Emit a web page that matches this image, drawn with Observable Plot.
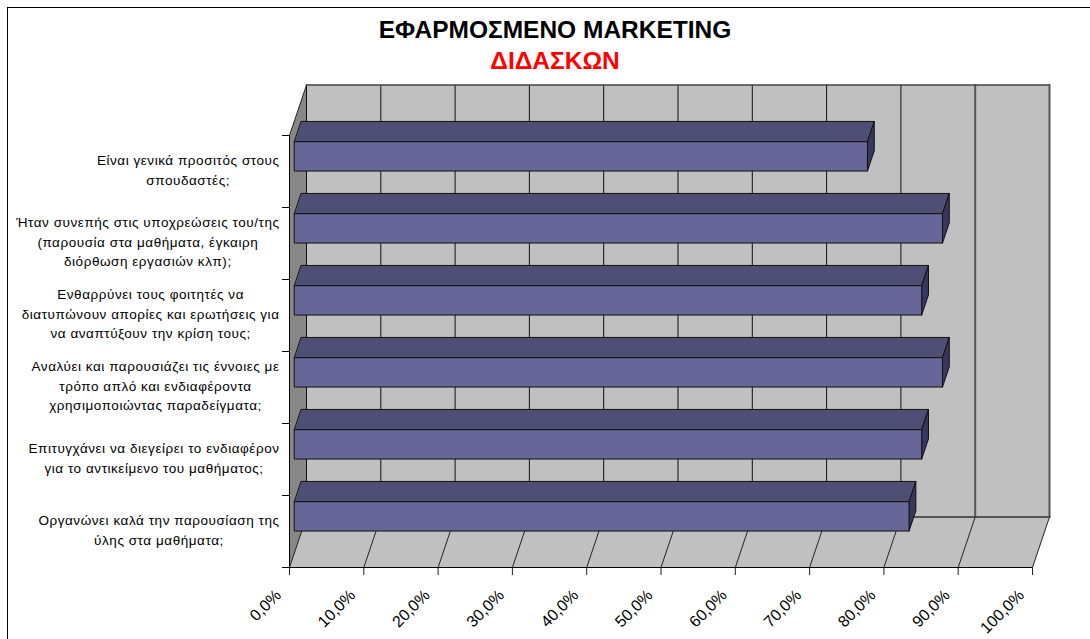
<!DOCTYPE html>
<html><head><meta charset="utf-8">
<script src="https://cdn.jsdelivr.net/npm/d3@7"></script>
<script src="https://cdn.jsdelivr.net/npm/@observablehq/plot@0.6"></script>
<style>
html,body{margin:0;padding:0;background:#fff;overflow:hidden;}
#chart{position:relative;width:1090px;height:639px;overflow:hidden;font-family:"Liberation Sans",Arial,sans-serif;}
#frame{position:absolute;left:7px;top:7px;width:1200px;height:800px;border:1px solid #000;box-sizing:border-box;pointer-events:none;}
.t{position:absolute;left:0;width:1110px;text-align:center;font-weight:bold;font-size:24.5px;line-height:28px;}
svg{position:absolute;left:0;top:0;}
.catlab text{letter-spacing:.55px;}
</style></head><body>
<div id="chart"><div id="frame"></div>
<div class="t" style="top:16px;color:#000">ΕΦΑΡΜΟΣΜΕΝΟ MARKETING</div>
<div class="t" style="top:47px;color:#f00">ΔΙΔΑΣΚΩΝ</div>
</div>
<script>
const categories = [
  "Είναι γενικά προσιτός στους\nσπουδαστές;",
  "Ήταν συνεπής στις υποχρεώσεις του/της\n(παρουσία στα μαθήματα, έγκαιρη\nδιόρθωση εργασιών κλπ);",
  "Ενθαρρύνει τους φοιτητές να\nδιατυπώνουν απορίες και ερωτήσεις για\nνα αναπτύξουν την κρίση τους;",
  "Αναλύει και παρουσιάζει τις έννοιες με\nτρόπο απλό και ενδιαφέροντα\nχρησιμοποιώντας παραδείγματα;",
  "Επιτυγχάνει να διεγείρει το ενδιαφέρον\nγια το αντικείμενο του μαθήματος;",
  "Οργανώνει καλά την παρουσίαση της\nύλης στα μαθήματα;"
];
const values = [0.771, 0.872, 0.844, 0.872, 0.844, 0.827];
const xTicks = [0,0.1,0.2,0.3,0.4,0.5,0.6,0.7,0.8,0.9,1];
const yTicks = [0,1,2,3,4,5,6];

// projection of the 3-D depth axis onto the two plot scales
const DX = 17/743, DY = 50.5/72;
const P = (v,b,d) => ({x:v+d*DX, y:b-d*DY});
const poly = (id,pts) => pts.map(p=>({id,...p}));

const wall = poly("w",[P(0,0,1),P(1,0,1),P(1,6,1),P(0,6,1)]);
const floor = poly("f",[P(0,6,0),P(1,6,0),P(1,6,1),P(0,6,1)]);
const side = poly("s",[P(0,0,0),P(0,0,1),P(0,6,1),P(0,6,0)]);

const H = 0.204, F = 0.3, B = 0.7;
const top_ = values.flatMap((v,i)=>poly(i,[P(0,i+.5-H,F),P(v,i+.5-H,F),P(v,i+.5-H,B),P(0,i+.5-H,B)]));
const right = values.flatMap((v,i)=>poly(i,[P(v,i+.5-H,F),P(v,i+.5-H,B),P(v,i+.5+H,B),P(v,i+.5+H,F)]));
const front = values.flatMap((v,i)=>poly(i,[P(0,i+.5-H,F),P(v,i+.5-H,F),P(v,i+.5+H,F),P(0,i+.5+H,F)]));

const closed = (data,fill,stroke,extra={}) => Plot.line(data,{x:"x",y:"y",z:"id",curve:"linear-closed",fill,stroke,strokeWidth:1,...extra});
const segs = (ts,a,b) => ts.flatMap(t=>{const p=a(t),q=b(t);return [{id:t,...p},{id:t,...q}];});

const ctx = document.createElement("canvas").getContext("2d");
const FS = 13.5, LS = 0.55;
ctx.font = FS+'px "Liberation Sans"';
const marginL = 289, plotW = 743, labelRight = 279;
const labelX = s => {
  const w = d3.max(s.split("\n"),l=>ctx.measureText(l).width + l.length*LS);
  return (labelRight - w/2 - marginL)/plotW;
};

const plot = Plot.plot({
  width:1090, height:639, marginLeft:289, marginRight:58, marginTop:135, marginBottom:72,
  style:{background:"transparent",fontFamily:'"Liberation Sans",Arial,sans-serif',overflow:"visible"},
  x:{domain:[0,1],label:null,axis:null},
  y:{domain:[0,6],reverse:true,label:null,axis:null},
  marks:[
    closed(wall,"#c0c0c0","none"),
    closed(floor,"#c0c0c0","none"),
    closed(side,"#878787","none"),
    // back-wall grid
    Plot.line(segs(xTicks.filter(t=>t<=0.8),t=>P(t,0,1),t=>P(t,6,1)),{x:"x",y:"y",z:"id",stroke:"#111",strokeWidth:1}),
    Plot.line(segs(xTicks.filter(t=>t>0.8),t=>P(t,0,1),t=>P(t,6,1)),{x:"x",y:"y",z:"id",stroke:"#555",strokeWidth:2}),
    Plot.line([P(0,0,1),P(1,0,1)],{x:"x",y:"y",stroke:"#444",strokeWidth:1.5}),
    Plot.line([P(0,6,1),P(1,6,1)],{x:"x",y:"y",stroke:"#555",strokeWidth:2}),
    // floor grid
    Plot.line(segs(xTicks,t=>P(t,6,0),t=>P(t,6,1)),{x:"x",y:"y",z:"id",stroke:"#222",strokeWidth:1}),
    Plot.line([P(0,0,0),P(0,0,1)],{x:"x",y:"y",stroke:"#222",strokeWidth:1}),
    // bars
    closed(top_,"#4f4f75","#111"),
    closed(right,"#36365e","#111"),
    closed(front,"#666699","#111"),
    // axes
    Plot.ruleY([6],{x1:0,x2:1,stroke:"#000"}),
    Plot.ruleX([0],{y1:0,y2:6,stroke:"#000"}),
    Plot.ruleX(xTicks,{y1:6,y2:6+8/72,stroke:"#222"}),
    Plot.ruleY(yTicks,{x1:-7/743,x2:0,stroke:"#000"}),
    Plot.axisX(xTicks,{anchor:"bottom",tickSize:0,tickPadding:25,dx:-11,tickRotate:-45,fontSize:16,fill:"#000",
      tickFormat:d=>(d*100).toFixed(1).replace(".",",")+"%",label:null}),
    Plot.text(categories,{x:labelX,y:(d,i)=>i+.5,dy:-3,text:d=>d,textAnchor:"middle",fontSize:FS,lineHeight:1.45,fill:"#000",className:"catlab"})
  ]
});
document.getElementById("chart").prepend(plot);
</script>
</body></html>
